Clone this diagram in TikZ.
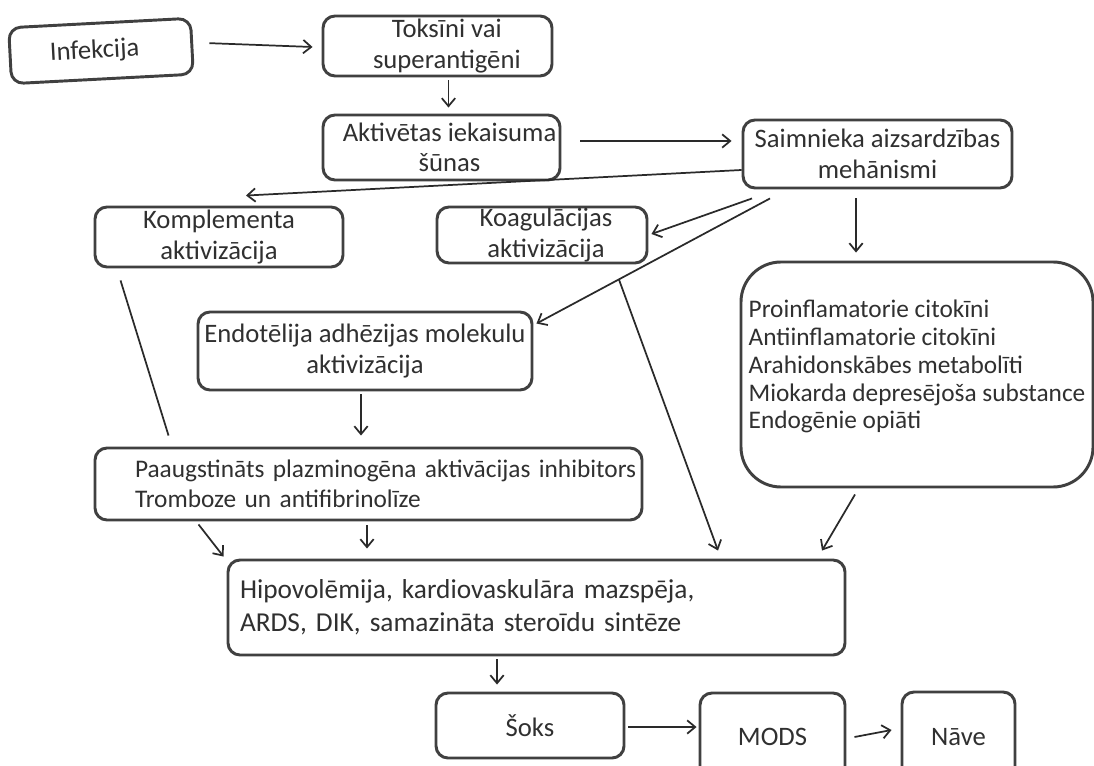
\documentclass[tikz,border=0pt]{standalone}
\usepackage{fontspec}
\setmainfont{Carlito}
\usetikzlibrary{arrows.meta,calc}
\definecolor{boxline}{HTML}{404040}
\definecolor{arrline}{HTML}{2A2A2A}
\definecolor{inktext}{HTML}{303030}
\begin{document}
\begin{tikzpicture}[x=0.75pt,y=-0.75pt,
  every node/.style={text=inktext},
  box/.style={draw=boxline,line width=2.2pt,rounded corners=9pt,inner sep=0pt,
    align=center,font=\fontsize{20}{23}\selectfont},
  arr/.style={draw=arrline,line width=1.3pt,-{Straight Barb[length=6pt,width=10pt,line width=1.3pt]}},
  ln/.style={draw=arrline,line width=1.3pt}]
\clip (0,0) rectangle (1094,766);
\fill[white] (0,0) rectangle (1094,766);

% boxes
\node[box,minimum width=136.5pt,minimum height=42pt,text width=136.5pt,align=left,rotate=3] (inf) at (101,51)
  {\hspace*{30pt}Infekcija};
\node[box,minimum width=171.75pt,minimum height=45pt] (tox) at (437.5,46)
  {\hspace*{14pt}Toksīni vai\\\hspace*{14pt}superantigēni};
\node[box,minimum width=177.75pt,minimum height=48.75pt] (akt) at (441.5,147.5)
  {\hspace*{12pt}Aktivētas iekaisuma\\\hspace*{12pt}šūnas};
\node[box,minimum width=201.75pt,minimum height=51pt] (sai) at (877.5,154)
  {Saimnieka aizsardzības\\mehānismi};
\node[box,minimum width=186pt,minimum height=45pt] (kom) at (219,237)
  {Komplementa\\aktivizācija};
\node[box,minimum width=157.5pt,minimum height=42pt] (koa) at (542,235)
  {\hspace*{6pt}Koagulācijas\\\hspace*{6pt}aktivizācija};
\node[box,minimum width=250.5pt,minimum height=58.5pt] (end) at (365,351)
  {Endotēlija adhēzijas molekulu\\aktivizācija};
\node[box,rounded corners=30pt,minimum width=264pt,minimum height=168.75pt,align=left,
  font=\fontsize{19}{20.8}\selectfont] (pro) at (917,374.5)
  {Proinflamatorie citokīni\\Antiinflamatorie citokīni\\Arahidonskābes metabolīti\\Miokarda depresējoša substance\\Endogēnie opiāti\\[-6pt]};
\node[box,minimum height=54pt,text width=410.25pt,align=left,
  font=\fontsize{19}{22.5}\selectfont] (paa) at (368.5,484)
  {\hspace*{30pt}Paaugstināts plazminogēna aktivācijas inhibitors\\\hspace*{30pt}Tromboze un antifibrinolīze};
\node[box,minimum height=71.25pt,text width=444.75pt,inner xsep=9pt,align=left,
  font=\fontsize{20.5}{24.75}\selectfont] (hip) at (536.5,607.5)
  {Hipovolēmija, kardiovaskulāra mazspēja,\\ARDS, DIK, samazināta steroīdu sintēze};
\node[box,minimum width=141pt,minimum height=48.75pt] (sok) at (530,725.5) {Šoks};
\node[box,minimum width=108.75pt,minimum height=66pt] (mod) at (772.5,737) {MODS};
\node[box,minimum width=84.75pt,minimum height=67.5pt] (nav) at (958.5,737) {Nāve};

% connectors
\draw[arr] ($(inf.east)+(16,-3)$) -- ($(tox.west)+(-9,1)$);
\draw[arr] ($(tox.south)+(11,3)$) -- ($(akt.north)+(7,-6)$);
\draw[arr] ($(akt.east)+(19,-6.5)$) -- ($(sai.west)+(-10,-13)$);
\draw[arr] ($(sai.west)+(0,16)$) -- ($(kom.north)+(27,-10)$);
\draw[arr] ($(sai.south)+(-125.5,9)$) -- ($(koa.east)+(3,-1)$);
\draw[arr] ($(sai.south)+(-107.5,9)$) -- coordinate[pos=0.647] (fork) ($(end.north east)+(3,13)$);
\draw[arr] (fork) -- ($(hip.north)+(181.5,-8)$);
\draw[arr] ($(sai.south)+(-21.5,9)$) -- ($(pro.north)+(-61,-8)$);
\draw[arr] ($(pro.south)+(-62,6)$) -- ($(hip.north)+(285.5,-8)$);
\draw[ln]  ($(kom.south west)+(27,12)$) -- ($(paa.north west)+(75,-11)$);
\draw[arr] ($(paa.south west)+(105,3)$) -- ($(hip.north west)+(-3,-2)$);
\draw[arr] ($(end.south)+(-4,3)$) -- ($(paa.north)+(-7.5,-11)$);
\draw[arr] ($(paa.south)+(-1.5,4)$) -- ($(hip.north)+(-169.5,-10)$);
\draw[arr] ($(hip.south)+(-39.5,3)$) -- ($(sok.north)+(-33,-7)$);
\draw[arr] ($(sok.east)+(3,1.5)$) -- ($(mod.west)+(-2,-10)$);
\draw[arr] ($(mod.east)+(8,0)$) -- ($(nav.west)+(-9,-7)$);
\end{tikzpicture}
\end{document}
